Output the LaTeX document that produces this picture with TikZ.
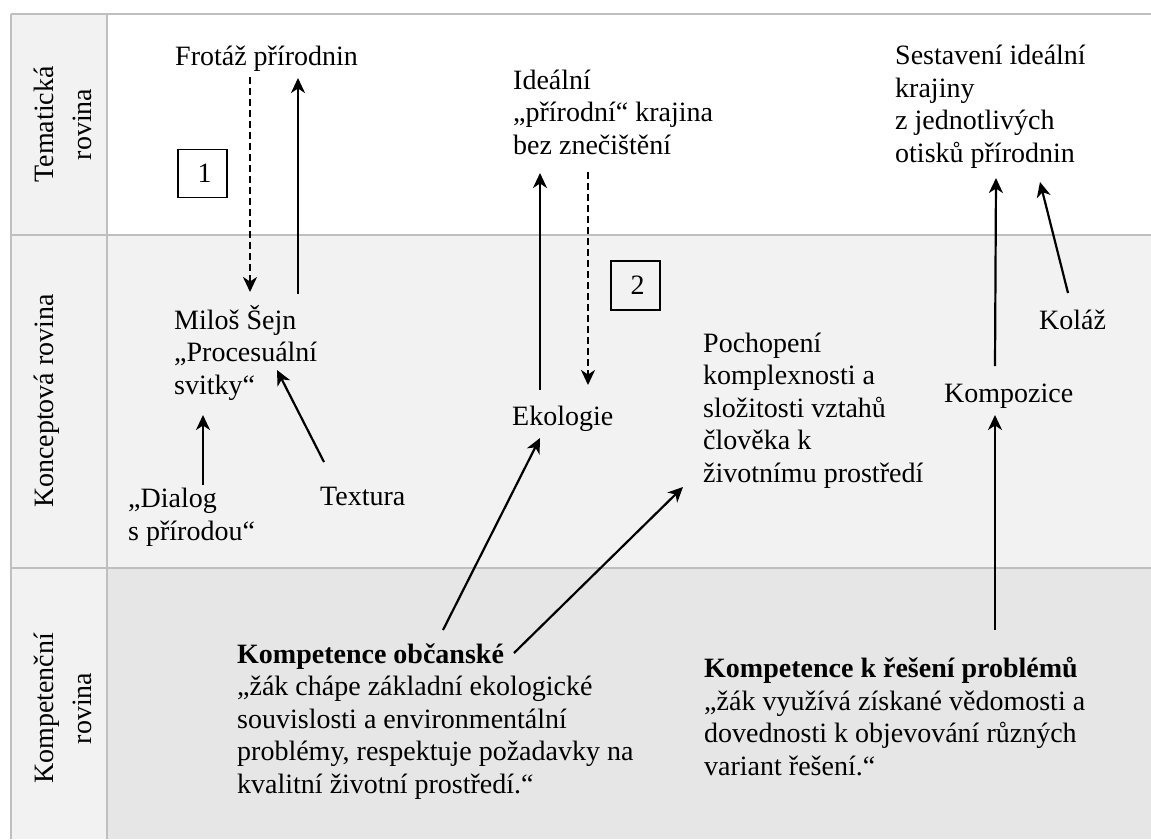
\documentclass[tikz,border=0pt]{standalone}
\usepackage{fontspec}
\setmainfont{Liberation Serif}
\usetikzlibrary{arrows.meta,calc}
\definecolor{gridline}{HTML}{BFBFBF}
\definecolor{lightfill}{HTML}{F2F2F2}
\definecolor{darkfill}{HTML}{E6E6E6}

\begin{document}
\begin{tikzpicture}[x=1pt,y=-1pt,
  % text nodes are placed by the baseline of their last line
  txt/.style={inner sep=0pt, anchor=base west, align=left,
              font=\fontsize{28}{32.4}\selectfont},
  rowlabel/.style={inner sep=0pt, rotate=90, align=center,
              font=\fontsize{28}{38.5}\selectfont},
  numbox/.style={draw, line width=1.3pt, inner sep=0pt,
              minimum width=49pt, minimum height=48pt,
              font=\fontsize{28}{32}\selectfont},
  arr/.style={line width=2.2pt, -{Stealth[length=15pt,width=14pt,inset=4.5pt]}},
  darr/.style={arr, dash pattern=on 7pt off 4pt},
  grid/.style={draw=gridline, line width=1.5pt}]

\useasboundingbox (0,0) rectangle (1151,839);

% backgrounds of the table
\fill[lightfill] (11,14) rectangle (107,839);
\fill[white] (107,14) rectangle (1151,235);
\fill[lightfill] (107,235) rectangle (1151,568);
\fill[darkfill] (107,568) rectangle (1151,839);

% table rules
\draw[grid] (11,14) -- (1151,14);
\draw[grid] (11,235) -- (1151,235);
\draw[grid] (11,568) -- (1151,568);
\draw[grid] (11,14) -- (11,839);
\draw[grid] (107,14) -- (107,839);

% row headings
\node[rowlabel] (rowT) at (63,124.5) {Tematická\\rovina};
\node[rowlabel, anchor=base] (rowK) at (53,401) {Konceptová rovina};
\node[rowlabel] (rowC) at (63,708.5) {Kompetenční\\rovina};

% thematic level
\node[txt] (frot) at (175,65) {Frotáž přírodnin};
\node[txt] (ideal) at (513,154) {Ideální\\„přírodní“ krajina\\bez znečištění};
\node[txt] (sest) at (895,162) {Sestavení ideální\\krajiny\\z jednotlivých\\otisků přírodnin};
\node[numbox] (box1) at (202.5,173.5) {\hspace*{4pt}1};

% conceptual level
\node[txt] (milos) at (174,394) {Miloš Šejn\\„Procesuální\\svitky“};
\node[txt] (dial) at (128,540) {„Dialog\\s přírodou“};
\node[txt] (textura) at (320,505) {Textura};
\node[txt] (eko) at (512,425) {Ekologie};
\node[txt] (poch) at (703,482) {Pochopení\\komplexnosti a\\složitosti vztahů\\člověka k\\životnímu prostředí};
\node[txt] (komp) at (944,402) {Kompozice};
\node[txt] (kol) at (1039,329) {Koláž};
\node[numbox, minimum height=49pt] (box2) at (635.5,285.5) {\hspace*{4pt}2};

% competence level
\node[txt] (obc) at (237,793) {\textbf{Kompetence občanské}\\„žák chápe základní ekologické\\souvislosti a environmentální\\problémy, respektuje požadavky na\\kvalitní životní prostředí.“};
\node[txt] (resh) at (704,775) {\textbf{Kompetence k řešení problémů}\\„žák využívá získané vědomosti a\\dovednosti k objevování různých\\variant řešení.“};

% connectors
\draw[darr] ($(frot.base west)+(75,12)$) -- ($(milos.base west)+(76,-102)$);
\draw[arr] ($(milos.base west)+(124,-100)$) -- ($(frot.base west)+(123,13)$);
\draw[arr] ($(dial.base west)+(75,-55)$) -- ($(milos.base west)+(29,21)$);
\draw[arr] ($(textura.base west)+(4,-43)$) -- ($(milos.base west)+(103,-24)$);

\draw[arr] ($(eko.base west)+(28,-35)$) -- ($(ideal.base west)+(27,19)$);
\draw[darr] ($(ideal.base west)+(75,18)$) -- ($(eko.base west)+(76,-40)$);
\draw[arr] ($(obc.base west)+(206,-163)$) -- ($(eko.base west)+(28,13)$);
\draw[arr] ($(obc.base west)+(277,-140)$) -- ($(poch.base west)+(-20,5)$);

\draw[arr] ($(komp.base west)+(51,-36)$) -- ($(sest.base west)+(101,16)$);
\draw[arr] ($(kol.base west)+(29,-36)$) -- ($(sest.base west)+(145,20)$);
\draw[arr] ($(resh.base west)+(291,-145)$) -- ($(komp.base west)+(51,13)$);

\end{tikzpicture}
\end{document}
